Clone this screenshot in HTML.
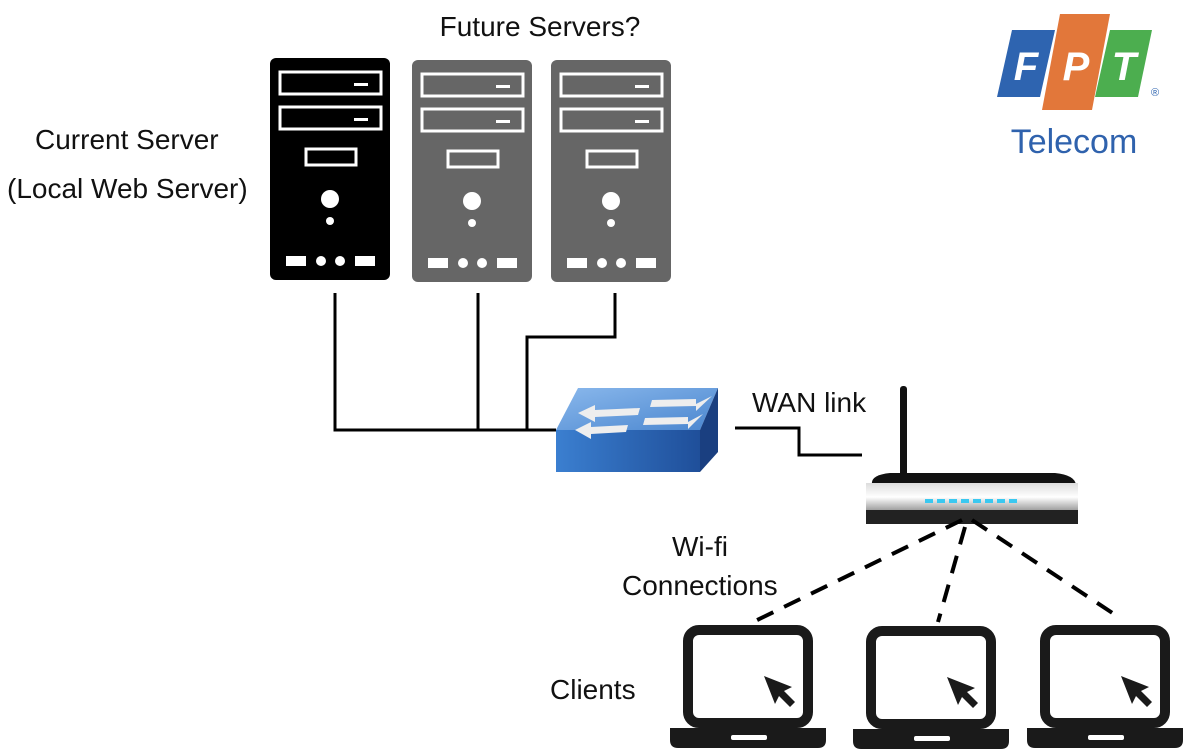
<!DOCTYPE html>
<html><head><meta charset="utf-8"><style>
body{margin:0;background:#fff;}
svg{display:block}
text{font-family:"Liberation Sans",sans-serif;}
</style></head><body>
<svg width="1198" height="750" viewBox="0 0 1198 750" xmlns="http://www.w3.org/2000/svg">
<defs>
<g id="srv">
  <rect x="0" y="0" width="120" height="222" rx="6"/>
  <rect x="10" y="14" width="101" height="22" fill="none" stroke="#fff" stroke-width="3"/>
  <rect x="10" y="49" width="101" height="22" fill="none" stroke="#fff" stroke-width="3"/>
  <rect x="84" y="25" width="14" height="3" fill="#fff"/>
  <rect x="84" y="60" width="14" height="3" fill="#fff"/>
  <rect x="36" y="91" width="50" height="16" fill="none" stroke="#fff" stroke-width="3"/>
  <circle cx="60" cy="141" r="9" fill="#fff"/>
  <circle cx="60" cy="163" r="4" fill="#fff"/>
  <rect x="16" y="198" width="20" height="10" fill="#fff"/>
  <circle cx="51" cy="203" r="5" fill="#fff"/>
  <circle cx="70" cy="203" r="5" fill="#fff"/>
  <rect x="85" y="198" width="20" height="10" fill="#fff"/>
</g>
<g id="lap">
  <rect x="5" y="5" width="120" height="93" rx="11" fill="none" stroke="#1a1a1a" stroke-width="10"/>
  <path d="M-13 103 H143 V115 Q143 123 135 123 H-5 Q-13 123 -13 115 Z" fill="#1a1a1a"/>
  <rect x="48" y="110" width="36" height="5" rx="2" fill="#fff"/>
  <path d="M81 51 L92 79 L96 71 L107 82 L112 77 L101 66 L109 62 Z" fill="#1a1a1a"/>
</g>
<linearGradient id="sw" x1="0" y1="0" x2="1" y2="0"><stop offset="0" stop-color="#3b7fd0"/><stop offset="1" stop-color="#1f4f9a"/></linearGradient>
<linearGradient id="swt" x1="0" y1="0" x2="1" y2="1"><stop offset="0" stop-color="#8ab8ec"/><stop offset="1" stop-color="#4a86cf"/></linearGradient>
<linearGradient id="rt" x1="0" y1="0" x2="0" y2="1"><stop offset="0" stop-color="#ddd"/><stop offset="0.5" stop-color="#fff"/><stop offset="1" stop-color="#999"/></linearGradient>
</defs>

<text x="540" y="36" font-size="28" text-anchor="middle" fill="#111">Future Servers?</text>
<text x="35" y="149" font-size="28" fill="#111">Current Server</text>
<text x="7" y="198" font-size="28" fill="#111">(Local Web Server)</text>
<text x="752" y="412" font-size="28" fill="#111">WAN link</text>
<text x="672" y="556" font-size="28" fill="#111">Wi-fi</text>
<text x="622" y="595" font-size="28" fill="#111">Connections</text>
<text x="550" y="699" font-size="28" fill="#111">Clients</text>

<use href="#srv" x="270" y="58" fill="#000"/>
<use href="#srv" x="412" y="60" fill="#666"/>
<use href="#srv" x="551" y="60" fill="#666"/>

<g fill="none" stroke="#000" stroke-width="3">
<path d="M335 293 V430 H556"/>
<path d="M478 293 V430"/>
<path d="M615 293 V337 H527 V430"/>
<path d="M735 428 H799 V455 H862"/>
</g>

<!-- switch -->
<polygon points="556,430 700,430 700,472 556,472" fill="url(#sw)"/>
<polygon points="556,430 578,388 718,388 700,430" fill="url(#swt)"/>
<polygon points="700,430 718,388 718,452 700,472" fill="#1a3f80"/>
<g fill="#eee">
<polygon points="578,413 595,405 595,410 640,408 638,415 595,417 595,422"/>
<polygon points="575,430 591,422 591,427 628,425 626,432 591,434 591,439"/>
<polygon points="712,396 696,404 696,399 652,400 650,407 696,406 696,411"/>
<polygon points="703,414 688,422 688,417 645,418 643,425 688,424 688,429"/>
</g>

<!-- router -->
<rect x="900" y="386" width="7" height="92" rx="3" fill="#111"/>
<path d="M872 485 Q870 475 890 473 H1055 Q1075 475 1076 485 Z" fill="#111"/>
<rect x="866" y="483" width="212" height="28" fill="url(#rt)"/>
<rect x="866" y="510" width="212" height="14" fill="#222"/>
<g fill="#3ac8f0"><rect x="925" y="499" width="8" height="4"/><rect x="937" y="499" width="8" height="4"/><rect x="949" y="499" width="8" height="4"/><rect x="961" y="499" width="8" height="4"/><rect x="973" y="499" width="8" height="4"/><rect x="985" y="499" width="8" height="4"/><rect x="997" y="499" width="8" height="4"/><rect x="1009" y="499" width="8" height="4"/></g>

<g stroke="#000" stroke-width="4" stroke-dasharray="18,12" fill="none">
<path d="M962 520 L747 625"/>
<path d="M965 527 L938 622"/>
<path d="M972 520 L1120 618"/>
</g>

<use href="#lap" x="683" y="625"/>
<use href="#lap" x="866" y="626"/>
<use href="#lap" x="1040" y="625"/>

<!-- FPT logo -->
<path d="M1012 30 H1055 L1040 97 H997 Z" fill="#2e64b0" />
<path d="M1060 14 H1110 L1092 110 H1042 Z" fill="#e2773a"/>
<path d="M1110 30 H1152 L1138 97 H1095 Z" fill="#4cae4f"/>
<text x="1026" y="80" font-size="40" font-weight="bold" font-style="italic" fill="#fff" text-anchor="middle">F</text>
<text x="1076" y="80" font-size="40" font-weight="bold" font-style="italic" fill="#fff" text-anchor="middle">P</text>
<text x="1124" y="80" font-size="40" font-weight="bold" font-style="italic" fill="#fff" text-anchor="middle">T</text>
<text x="1151" y="96" font-size="11" fill="#2e64b0">®</text>
<text x="1074" y="153" font-size="34" fill="#2f62ad" text-anchor="middle">Telecom</text>
</svg>
</body></html>
